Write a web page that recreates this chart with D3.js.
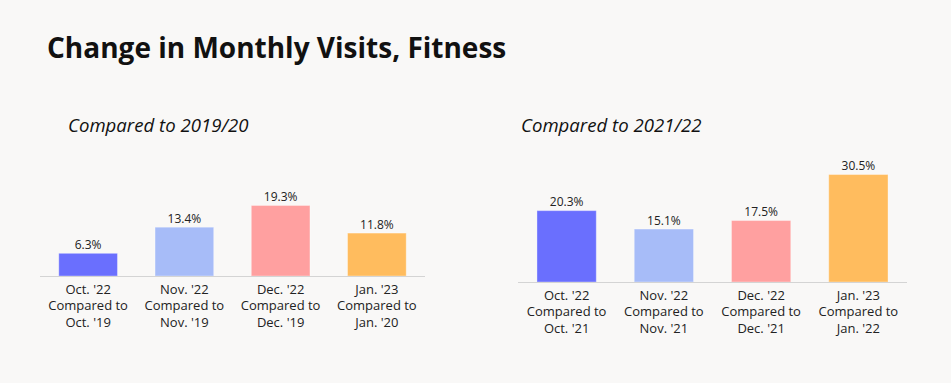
<!DOCTYPE html>
<html>
<head>
<meta charset="utf-8">
<script src="https://cdn.jsdelivr.net/npm/d3@7"></script>
<style>
  html, body { margin: 0; padding: 0; background: #f9f8f7; }
  svg { display: block; font-family: "Open Sans", sans-serif; }
</style>
</head>
<body>
<svg id="chart" width="951" height="383"></svg>
<script>
/* ── data ─────────────────────────────────────────── */
const months = ["Oct. '22", "Nov. '22", "Dec. '22", "Jan. '23"];
const base1920 = ["Oct. '19", "Nov. '19", "Dec. '19", "Jan. '20"];
const base2122 = ["Oct. '21", "Nov. '21", "Dec. '21", "Jan. '22"];
const vals1920 = [6.3, 13.4, 19.3, 11.8];
const vals2122 = [20.3, 15.1, 17.5, 30.5];
const colors = ["#6a6ffe", "#a7bcf8", "#ffa0a0", "#ffbc5e"];

const svg = d3.select("#chart");

svg.append("text")
  .attr("x", 47).attr("y", 58)
  .attr("font-size", 28).attr("font-weight", 700)
  .attr("fill", "#111")
  .text("Change in Monthly Visits, Fitness");

function panel(opts) {
  const { x0, x1, baseY, pxPer, subX, subtitle, vals, bases } = opts;

  svg.append("text")
    .attr("x", subX).attr("y", 132)
    .attr("font-size", 18.6).attr("font-style", "italic")
    .attr("fill", "#111")
    .text(subtitle);

  const x = d3.scaleBand().domain(months).range([x0, x1])
    .paddingInner(0.38).paddingOuter(0.19);
  const maxV = d3.max(vals);
  const y = d3.scaleLinear().domain([0, maxV]).range([baseY, baseY - maxV * pxPer]);

  const g = svg.append("g");
  const rows = months.map((m, i) => ({ m, v: vals[i], b: bases[i], c: colors[i] }));

  g.selectAll("rect").data(rows).join("rect")
    .attr("x", d => x(d.m) + 0.5)
    .attr("width", x.bandwidth() - 1)
    .attr("y", d => y(d.v) + 0.5)
    .attr("height", d => y(0) - y(d.v) - 0.5)
    .attr("fill", d => d.c)
    .attr("stroke", "rgba(255,255,255,0.35)")
    .attr("stroke-width", 1);

  g.selectAll("text.val").data(rows).join("text")
    .attr("class", "val")
    .attr("x", d => x(d.m) + x.bandwidth() / 2)
    .attr("y", d => y(d.v) - 4)
    .attr("text-anchor", "middle")
    .attr("font-size", 12).attr("fill", "#222")
    .text(d => d.v.toFixed(1) + "%");

  g.append("line")
    .attr("x1", x0).attr("x2", x1)
    .attr("y1", baseY + 0.5).attr("y2", baseY + 0.5)
    .attr("stroke", "#d4d4d4").attr("stroke-width", 1);

  const lab = g.selectAll("text.cat").data(rows).join("text")
    .attr("class", "cat")
    .attr("text-anchor", "middle")
    .attr("font-size", 13).attr("fill", "#222");
  lab.each(function(d) {
    const t = d3.select(this);
    const cx = x(d.m) + x.bandwidth() / 2;
    [d.m, "Compared to", d.b].forEach((s, k) => {
      t.append("tspan").attr("x", cx).attr("y", baseY + 17.5 + k * 16.7).text(s);
    });
  });
}

panel({ x0: 40, x1: 425, baseY: 276, pxPer: 3.68, subX: 68,
  subtitle: "Compared to 2019/20", vals: vals1920, bases: base1920 });
panel({ x0: 518, x1: 907, baseY: 282, pxPer: 3.54, subX: 521,
  subtitle: "Compared to 2021/22", vals: vals2122, bases: base2122 });
</script>
</body>
</html>
